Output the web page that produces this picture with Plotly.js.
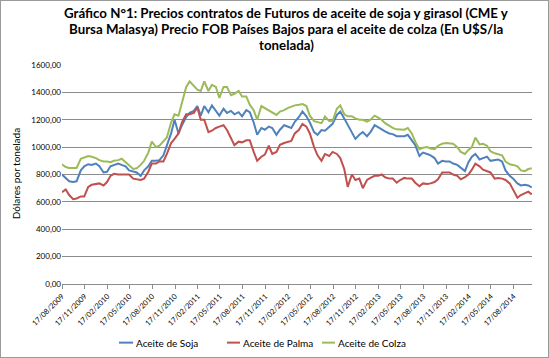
<!DOCTYPE html>
<html><head><meta charset="utf-8">
<script src="https://cdn.plot.ly/plotly-3.0.1.min.js"></script>
<style>
html,body{margin:0;padding:0;background:#fff;}
#wrap{position:relative;width:549px;height:358px;}
#chart{width:549px;height:358px;}
#frame{position:absolute;left:0;top:0;width:547px;height:356px;border:1px solid #9a9a9a;pointer-events:none;}
</style></head>
<body><div id="wrap"><div id="chart"></div><div id="frame"></div></div>
<script>
const dates = [
"2009-08-17","2009-09-01","2009-09-15","2009-10-01","2009-10-15","2009-11-01","2009-11-15","2009-12-01","2009-12-15",
"2010-01-01","2010-01-15","2010-02-01","2010-02-15","2010-03-01","2010-03-15","2010-04-01","2010-04-15","2010-05-01","2010-05-15","2010-06-01","2010-06-15",
"2010-07-01","2010-07-15","2010-08-01","2010-08-15","2010-09-01","2010-09-15","2010-10-01","2010-10-15","2010-11-01","2010-11-15","2010-12-01","2010-12-15",
"2011-01-01","2011-01-15","2011-02-01","2011-02-15","2011-03-01","2011-03-15","2011-04-01","2011-04-15","2011-05-01","2011-05-15","2011-06-01","2011-06-15",
"2011-07-01","2011-07-15","2011-08-01","2011-08-15","2011-09-01","2011-09-15","2011-10-01","2011-10-15","2011-11-01","2011-11-15","2011-12-01","2011-12-15",
"2012-01-01","2012-01-15","2012-02-01","2012-02-15","2012-03-01","2012-03-15","2012-04-01","2012-04-15","2012-05-01","2012-05-15","2012-06-01","2012-06-15",
"2012-07-01","2012-07-15","2012-08-01","2012-08-15","2012-09-01","2012-09-15","2012-10-01","2012-10-15","2012-11-01","2012-11-15","2012-12-01","2012-12-15",
"2013-01-01","2013-01-15","2013-02-01","2013-02-15","2013-03-01","2013-03-15","2013-04-01","2013-04-15","2013-05-01","2013-05-15","2013-06-01","2013-06-15",
"2013-07-01","2013-07-15","2013-08-01","2013-08-15","2013-09-01","2013-09-15","2013-10-01","2013-10-15","2013-11-01","2013-11-15","2013-12-01","2013-12-15",
"2014-01-01","2014-01-15","2014-02-01","2014-02-15","2014-03-01","2014-03-15","2014-04-01","2014-04-15","2014-05-01","2014-05-15","2014-06-01","2014-06-15",
"2014-07-01","2014-07-15","2014-08-01","2014-08-15","2014-09-01","2014-09-15","2014-10-01","2014-10-15","2014-10-29"
];

const soja = [
800,770,750,745,750,830,860,875,870,880,860,815,820,860,870,880,870,860,830,820,815,790,830,860,900,900,905,940,1010,1100,1200,1100,1160,1220,1250,1265,1300,
1230,1300,1255,1305,1265,1230,1280,1250,1265,1240,1255,1225,1270,1255,1180,1090,1140,1127,1150,1140,1090,1127,1160,1150,1140,1185,1220,1260,1225,1180,1110,1090,1125,1120,1150,1170,1235,1260,1210,1163,1110,1060,1090,1110,1080,1110,1160,1145,
1125,1115,1100,1095,1080,1078,1080,1090,1050,1015,935,960,950,940,920,880,900,895,895,880,870,848,825,890,930,950,910,920,930,900,905,910,895,830,790,770,735,720,725,720,705
];

const palma = [
670,690,650,620,625,640,640,710,725,730,735,720,745,790,805,800,800,805,800,770,765,760,770,820,880,880,895,895,950,1030,1060,1100,1180,1240,1240,1250,1290,
1200,1200,1110,1120,1140,1150,1160,1125,1060,1015,1040,1035,1050,1050,965,900,930,945,1010,950,965,1017,1030,1040,1045,1100,1127,1170,1150,1100,1000,940,900,950,935,965,950,920,840,710,800,760,770,700,760,775,790,790,
800,780,770,770,740,760,775,770,770,740,714,735,730,735,745,765,815,815,815,800,790,765,780,800,835,880,860,835,825,815,770,775,770,760,735,690,630,650,665,675,655
];

const colza = [
875,855,848,850,848,915,925,935,930,920,905,895,895,890,900,905,915,890,870,840,845,870,900,960,1040,1000,1010,1040,1070,1180,1240,1230,1330,1440,1480,1450,1420,
1410,1480,1410,1455,1440,1360,1440,1440,1380,1390,1410,1370,1370,1310,1270,1200,1300,1285,1265,1250,1235,1260,1270,1285,1295,1305,1310,1315,1300,1230,1190,1185,1175,1224,1190,1190,1280,1305,1240,1225,1225,1210,1200,1200,1187,1200,1230,1215,
1200,1175,1155,1140,1130,1127,1127,1140,1100,1040,985,995,1000,990,985,1010,1025,1030,1025,1025,1000,965,950,980,1000,1070,1020,1025,1010,970,955,950,940,895,875,870,860,830,825,840,845
];

const seriesNames = ["Aceite de Soja", "Aceite de Palma", "Aceite de Colza"];
const tickDates = ["2009-08-17","2009-11-17","2010-02-17","2010-05-17","2010-08-17","2010-11-17","2011-02-17","2011-05-17","2011-08-17","2011-11-17","2012-02-17","2012-05-17","2012-08-17","2012-11-17","2013-02-17","2013-05-17","2013-08-17","2013-11-17","2014-02-17","2014-05-17","2014-08-17"];
const yTicks = [0,200,400,600,800,1000,1200,1400,1600];
const titleLines = [
"Gráfico N°1: Precios contratos de Futuros de aceite de soja y girasol (CME y",
"Bursa Malasya) Precio FOB Países Bajos para el aceite de colza (En U$S/la",
"tonelada)"
];
const yTitle = "Dólares por tonelada";

const colors = ["#4F81BD", "#C0504D", "#9BBB59"];
const values = [soja, palma, colza];
const FONT = "Lato, 'Open Sans', sans-serif";

const traces = values.map((v, i) => ({
  x: dates, y: v, type: "scatter", mode: "lines", name: seriesNames[i],
  line: {color: colors[i], width: 2}, showlegend: false
}));

const annotations = titleLines.map((t, i) => ({
  text: "<b>" + t + "</b>", xref: "paper", yref: "paper",
  x: 0.4766, y: 1.236 - i * 0.073, xanchor: "center", yanchor: "middle",
  showarrow: false, font: {family: FONT, size: 13.3, color: "#000"}
}));
annotations.push({
  text: yTitle, xref: "paper", yref: "paper", x: -0.096, y: 0.505,
  xanchor: "center", yanchor: "middle", textangle: -90, showarrow: false,
  font: {family: FONT, size: 10, color: "#000"}
});

// custom legend (short line samples like the reference)
const legX = [[0.1213, 0.1511], [0.3511, 0.3787], [0.5532, 0.5809]];
const legY = -0.2677;
const shapes = [];
legX.forEach((p, i) => {
  shapes.push({type: "line", xref: "paper", yref: "paper", x0: p[0], x1: p[1], y0: legY, y1: legY,
               line: {color: colors[i], width: 2}});
  annotations.push({text: seriesNames[i], xref: "paper", yref: "paper", x: p[1] + 0.003, y: legY,
                    xanchor: "left", yanchor: "middle", showarrow: false,
                    font: {family: FONT, size: 10, color: "#000"}});
});

const layout = {
  width: 549, height: 358,
  margin: {l: 62, r: 17, t: 65, b: 74},
  paper_bgcolor: "#fff", plot_bgcolor: "#fff",
  separators: ",.",
  showlegend: false,
  xaxis: {
    type: "date", range: ["2009-08-17", "2014-10-30"],
    tickvals: tickDates, tickformat: "%d/%m/%Y", tickangle: -45,
    showgrid: false, zeroline: false, showline: true, linecolor: "#8c8c8c", linewidth: 1,
    ticks: "outside", ticklen: 4, tickcolor: "#8c8c8c",
    tickfont: {family: FONT, size: 7.5, color: "#000"}
  },
  yaxis: {
    range: [0, 1600], tickvals: yTicks, tickformat: ".2f",
    showgrid: true, gridcolor: "#8c8c8c", gridwidth: 1, zeroline: false,
    showline: false, ticks: "", ticklen: 0,
    tickfont: {family: FONT, size: 8, color: "#000"}
  },
  shapes: shapes,
  annotations: annotations
};

Plotly.newPlot("chart", traces, layout, {staticPlot: true, displayModeBar: false});
</script>
</body></html>
